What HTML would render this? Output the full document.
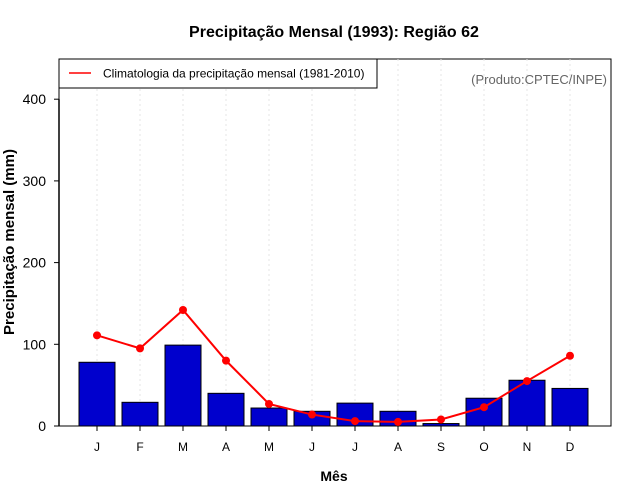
<!DOCTYPE html>
<html><head><meta charset="utf-8"><style>body{margin:0;background:#fff}svg{display:block;font-family:"Liberation Sans",sans-serif}</style></head>
<body>
<svg id="c" width="640" height="500">
<text x="334" y="37" text-anchor="middle" font-size="16" font-weight="bold">Precipitação Mensal (1993): Região 62</text>
<rect x="59" y="59" width="552" height="367" fill="none" stroke="#000" stroke-width="1"/>
<g id="grid"></g><g id="bars"></g><g id="line"></g><g id="axes"></g>
<text x="607" y="84" text-anchor="end" font-size="13" fill="#666">(Produto:CPTEC/INPE)</text>
<g>
<rect x="59" y="59" width="318" height="29" fill="#fff" stroke="#000"/>
<line x1="69" y1="73" x2="91" y2="73" stroke="red" stroke-width="1.5"/>
<text x="103" y="77.5" font-size="12">Climatologia da precipitação mensal (1981-2010)</text>
</g>
<text x="334" y="481" text-anchor="middle" font-size="14" font-weight="bold">Mês</text>
<text transform="translate(14,242) rotate(-90)" text-anchor="middle" font-size="15" font-weight="bold">Precipitação mensal (mm)</text>
</svg>
<script>
const months=["J","F","M","A","M","J","J","A","S","O","N","D"];
const precip=[78,29,99,40,22,18,28,18,3,34,56,46];
const clim=[111,95,142,80,27,14,6,5,8,23,55,86];
const yTicks=[0,100,200,300,400];
const NS="http://www.w3.org/2000/svg";
const x=i=>97+i*43;
const y=v=>426-v*0.817;
function mk(p,t,a){const e=document.createElementNS(NS,t);for(const k in a)e.setAttribute(k,a[k]);document.getElementById(p).appendChild(e);return e;}
months.forEach((m,i)=>{
 const g=mk("grid","line",{x1:x(i),x2:x(i),y1:59,y2:426,stroke:"#e4e4e4","stroke-dasharray":"2,3"});
 
 
 const b=mk("bars","rect",{x:x(i)-18,y:y(precip[i]),width:36,height:precip[i]*0.817,fill:"#0000cd",stroke:"#000","stroke-width":1});
 
 
 const t=mk("axes","line",{x1:x(i),x2:x(i),y1:426,y2:431,stroke:"#000"});
 
 
 const l=mk("axes","text",{x:x(i),y:451,"text-anchor":"middle","font-size":12});
 l.textContent=m;
 
 
});
const pl=mk("line","polyline",{points:clim.map((v,i)=>x(i)+","+y(v)).join(" "),fill:"none",stroke:"red","stroke-width":2});


clim.forEach((v,i)=>{
 const c=mk("line","circle",{cx:x(i),cy:y(v),r:4,fill:"red"});
 
 
});
yTicks.forEach(v=>{
 const t=mk("axes","line",{x1:54,x2:59,y1:y(v),y2:y(v),stroke:"#000"});
 
 
 const l=mk("axes","text",{x:46,y:y(v)+5,"text-anchor":"end","font-size":14});
 l.textContent=v;
 
 
});
const ax=mk("axes","line",{x1:59,x2:59,y1:y(400),y2:426,stroke:"#000","stroke-width":1.5});


</script>
</body></html>
